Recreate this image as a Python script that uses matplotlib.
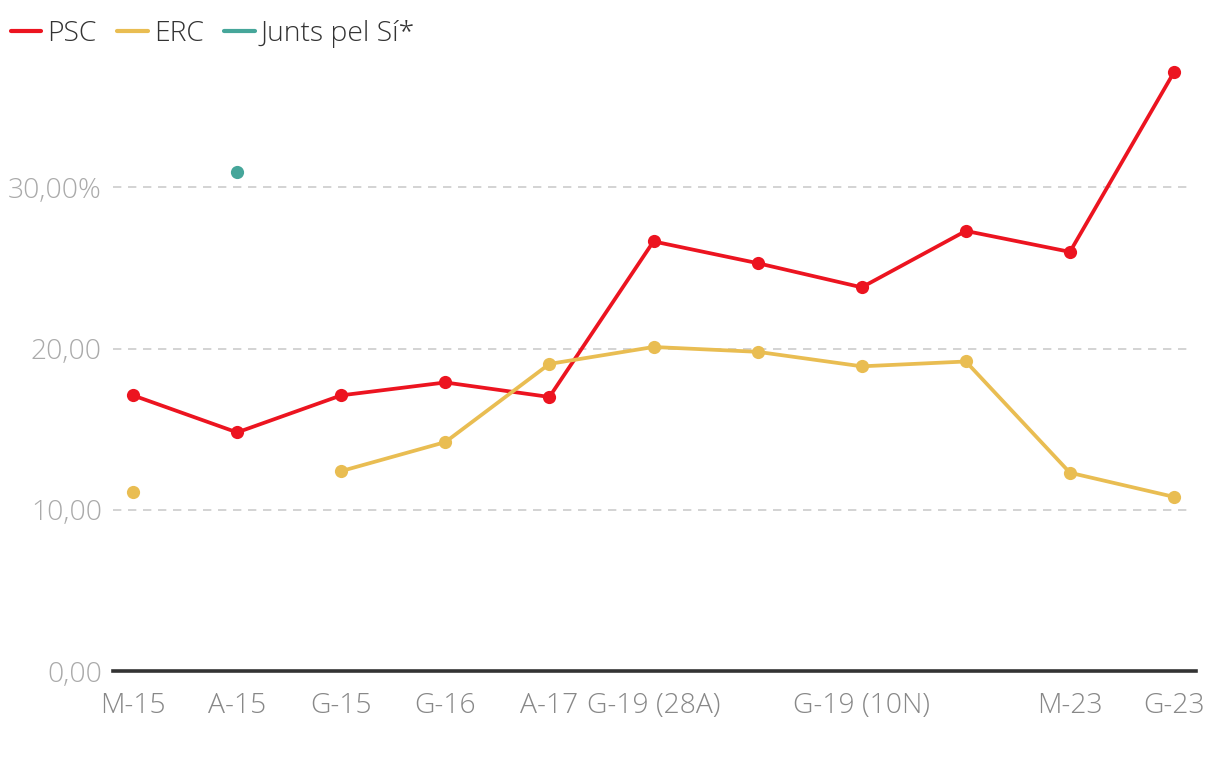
import numpy as np
import matplotlib
matplotlib.use("Agg")
import matplotlib.pyplot as plt

categories = ["M-15", "A-15", "G-15", "G-16", "A-17", "G-19 (28A)", "M-19",
              "G-19 (10N)", "A-21", "M-23", "G-23"]
tick_labels = ["M-15", "A-15", "G-15", "G-16", "A-17", "G-19 (28A)", "",
               "G-19 (10N)", "", "M-23", "G-23"]
psc = [17.1, 14.8, 17.1, 17.9, 17.0, 26.65, 25.3, 23.8, 27.3, 26.0, 37.15]
erc = [11.1, np.nan, 12.4, 14.2, 19.05, 20.1, 19.8, 18.9, 19.2, 12.3, 10.8]
junts = [np.nan, 30.95, np.nan, np.nan, np.nan, np.nan, np.nan, np.nan, np.nan, np.nan, np.nan]
yticks = [0, 10, 20, 30]
ytick_labels = ["0,00", "10,00", "20,00", "30,00%"]

fam = ["Open Sans", "DejaVu Sans"]
plt.rcParams["font.family"] = fam

fig = plt.figure(figsize=(12.2, 7.78), dpi=100)
W, H = 1220, 778
ax = fig.add_axes([113 / W, 107 / H, (1196 - 113) / W, 644.8 / H])

x = np.arange(len(categories))
colors = {"PSC": "#ec1420", "ERC": "#e9bd52", "Junts pel Sí*": "#46a69a"}
for name, vals in [("PSC", psc), ("ERC", erc), ("Junts pel Sí*", junts)]:
    ax.plot(x, vals, color=colors[name], lw=2.7, marker="o", markersize=9.5,
            markeredgewidth=0, label=name, solid_capstyle="round", zorder=3)

ax.set_xlim(-0.192, 10.211)
ax.set_ylim(0, 40)
ax.set_yticks(yticks)
ax.set_yticklabels(ytick_labels)
ax.set_xticks(x)
ax.set_xticklabels(tick_labels)
for s in ["top", "right", "left"]:
    ax.spines[s].set_visible(False)
ax.spines["bottom"].set_color("#333333")
ax.spines["bottom"].set_linewidth(2.6)
ax.spines["bottom"].set_zorder(4)
ax.tick_params(axis="both", length=0)
ax.tick_params(axis="y", colors="#aaaaaa", labelsize=20.3, pad=8)
ax.tick_params(axis="x", colors="#888888", labelsize=20.3, pad=15)
for lbl in ax.get_xticklabels() + ax.get_yticklabels():
    lbl.set_fontweight("light")
for yv in yticks[1:]:
    ax.axhline(yv, xmin=0, xmax=(1190 - 113) / (1196 - 113),
               color="#cccccc", lw=1.2, ls=(0, (5, 4)), zorder=1)

leg = fig.legend(loc="upper left", bbox_to_anchor=(-6 / W, 1 - 3 / H), ncol=3, frameon=False,
                 fontsize=20.3, handlelength=1.08, handletextpad=0.22,
                 columnspacing=0.72, borderaxespad=0.3, borderpad=0.3)
for line in leg.get_lines():
    line.set_marker("")
    line.set_linewidth(3)
for t in leg.get_texts():
    t.set_color("#333333")
    t.set_fontweight("light")

fig.savefig("out.png", dpi=100)
